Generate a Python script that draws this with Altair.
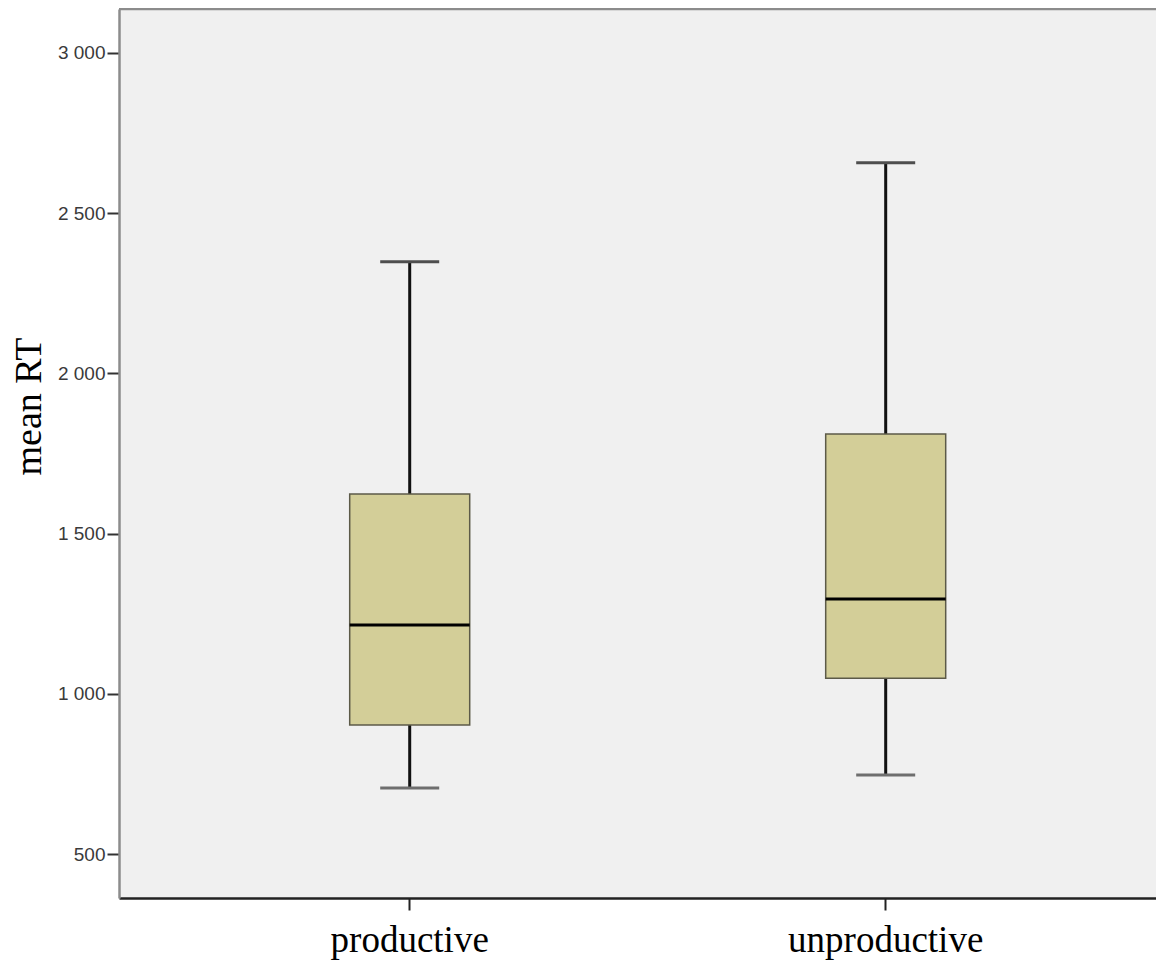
import altair as alt
import pandas as pd

categories = ["productive", "unproductive"]
lower_whisker = [706, 747]
q1 = [903, 1049]
median = [1215, 1296]
q3 = [1624, 1811]
upper_whisker = [2348, 2657]
y_ticks = [500, 1000, 1500, 2000, 2500, 3000]

df = pd.DataFrame({
    "group": categories,
    "lower": lower_whisker,
    "q1": q1,
    "median": median,
    "q3": q3,
    "upper": upper_whisker,
})

W, H = 1037, 889

x_enc = alt.X(
    "group:N",
    sort=categories,
    scale=alt.Scale(paddingInner=0, paddingOuter=0.0893, align=0.62),
    axis=alt.Axis(
        title=None,
        labelAngle=0,
        labelFont="Liberation Serif",
        labelFontSize=37,
        labelColor="#000000",
        labelPadding=12,
        labelLimit=0,
        tickSize=12,
        tickWidth=2,
        tickColor="#222222",
        domainColor="#222222",
        domainWidth=2.5,
    ),
)

y_scale = alt.Scale(domain=[363, 3137], nice=False, zero=False)
y_axis = alt.Axis(
    title="mean RT",
    titleFont="Liberation Serif",
    titleFontSize=38,
    titleFontWeight="normal",
    titleColor="#000000",
    titleX=-90,
    titleY=397,
    titleAngle=-90,
    titleAlign="center",
    titleBaseline="middle",
    values=y_ticks,
    labelExpr="replace(format(datum.value, ','), ',', ' ')",
    labelFont="Liberation Sans",
    labelFontSize=19,
    labelColor="#3a3a3a",
    labelPadding=2,
    tickSize=12,
    tickWidth=2,
    tickColor="#333333",
    domainColor="#8c8c8c",
    domainWidth=2.5,
    grid=False,
)

base = alt.Chart(df)

whisker = base.mark_rule(color="#111111", strokeWidth=3).encode(
    x=x_enc,
    y=alt.Y("lower:Q", scale=y_scale, axis=y_axis),
    y2="upper:Q",
)

box = base.mark_bar(
    size=120, color="#D3CE98", stroke="#5c5a48", strokeWidth=1.5, opacity=1
).encode(
    x=x_enc,
    y=alt.Y("q1:Q", scale=y_scale, axis=y_axis),
    y2="q3:Q",
)

med = base.mark_tick(size=120, thickness=3, color="#000000", opacity=1).encode(
    x=x_enc,
    y=alt.Y("median:Q", scale=y_scale, axis=y_axis),
)

cap_lo = base.mark_tick(size=59, thickness=3, color="#6e6e6e", opacity=1).encode(
    x=x_enc,
    y=alt.Y("lower:Q", scale=y_scale, axis=y_axis),
)

cap_hi = base.mark_tick(size=59, thickness=3, color="#4e4e4e", opacity=1).encode(
    x=x_enc,
    y=alt.Y("upper:Q", scale=y_scale, axis=y_axis),
)

top_border = alt.Chart(pd.DataFrame({"a": [0]})).mark_rule(
    color="#8c8c8c", strokeWidth=2.5
).encode(x=alt.value(0), x2=alt.value(W + 20), y=alt.value(0))

chart = (
    alt.layer(whisker, box, med, cap_lo, cap_hi, top_border)
    .properties(
        width=W,
        height=H,
        autosize=alt.AutoSizeParams(type="none"),
        padding={"left": 111, "top": 1, "right": 0, "bottom": 62},
        background="#ffffff",
    )
    .configure_view(fill="#F0F0F0", stroke=None)
)

chart.save("out.html", embed_options={"renderer": "svg", "actions": False})
